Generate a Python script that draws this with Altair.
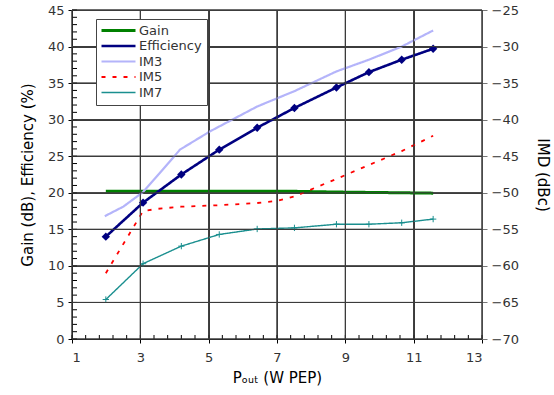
import altair as alt
import pandas as pd

# ---- data ----
series_names = ["Gain", "Efficiency", "IM3", "IM5", "IM7"]
series_colors = ["#008000", "#000080", "#b4b4fa", "#ff0000", "#1a8f8f"]
series_dash = [[1, 0], [1, 0], [1, 0], [4, 7], [1, 0]]
series_width = [3, 1.4, 2, 3, 1]

x_pts = [1.99, 3.08, 4.20, 5.31, 6.42, 7.51, 8.74, 9.69, 10.65, 11.57]
gain = [20.2, 20.2, 20.2, 20.2, 20.2, 20.2, 20.1, 20.05, 20.0, 19.95]
eff = [14.0, 18.65, 22.5, 25.9, 28.9, 31.6, 34.4, 36.5, 38.2, 39.7]

im3_x = [1.96, 2.5, 3.08, 3.57, 4.16, 5.04, 6.42, 7.51, 8.74, 9.69, 10.65, 11.57]
im3 = [-53.2, -51.9, -49.9, -47.3, -44.1, -41.6, -38.2, -36.1, -33.4, -31.8, -30.0, -27.8]

im5_x = [1.99, 3.08, 3.5, 4.2, 5.31, 6.42, 7.0, 7.51, 8.74, 9.69, 10.65, 11.57]
im5 = [-61.0, -52.5, -52.2, -51.9, -51.7, -51.4, -51.1, -50.5, -48.1, -46.2, -44.3, -42.2]

im7 = [-64.6, -59.7, -57.3, -55.7, -54.95, -54.8, -54.3, -54.3, -54.1, -53.6]

x_major = [1, 3, 5, 7, 9, 11, 13]
x_minor = [round(1 + 0.4 * i, 2) for i in range(31)]
yl_major = list(range(0, 50, 5))
yl_minor = list(range(0, 46))
yr_major = list(range(-70, -20, 5))

# ---- tables ----
rows_left = [{"x": a, "val": b, "series": "Gain"} for a, b in zip(x_pts, gain)]
rows_left += [{"x": a, "val": b, "series": "Efficiency"} for a, b in zip(x_pts, eff)]
df_left = pd.DataFrame(rows_left)
df_eff = pd.DataFrame({"x": x_pts, "val": eff})

rows_right = [{"x": a, "val": b, "series": "IM3"} for a, b in zip(im3_x, im3)]
rows_right += [{"x": a, "val": b, "series": "IM5"} for a, b in zip(im5_x, im5)]
rows_right += [{"x": a, "val": b, "series": "IM7"} for a, b in zip(x_pts, im7)]
df_right = pd.DataFrame(rows_right)
df_im7 = pd.DataFrame({"x": x_pts, "val": im7})

df_xminor = pd.DataFrame({"x": x_minor})
df_yminor = pd.DataFrame({"val": yl_minor})
df_xgrid = pd.DataFrame({"x": x_major})
df_ygrid = pd.DataFrame({"val": yl_major})

FONT = "DejaVu Sans"
GRID = "#3c3c3c"

ax_x = alt.Axis(values=x_major, grid=True, gridColor=GRID, gridWidth=1,
                domainColor="#000", tickColor="#000", tickSize=4,
                labelFont=FONT, labelFontSize=13, labelColor="#333", labelPadding=8,
                title="Pₒᵤₜ (W PEP)", titleFont=FONT, titleFontSize=15,
                titleFontWeight="normal", titleColor="#000", titlePadding=6)
x_enc = alt.X("x:Q", scale=alt.Scale(domain=[1, 13], nice=False, zero=False), axis=ax_x)

ax_yl = alt.Axis(values=yl_major, grid=True, gridColor=GRID, gridWidth=1,
                 domainColor="#000", tickColor="#000", tickSize=4,
                 labelFont=FONT, labelFontSize=13, labelColor="#333", labelPadding=4,
                 title="Gain (dB), Efficiency (%)", titleFont=FONT, titleFontSize=15,
                 titleFontWeight="normal", titleColor="#000", titlePadding=12)
yl_scale = alt.Scale(domain=[0, 45], nice=False)
yl_enc = alt.Y("val:Q", scale=yl_scale, axis=ax_yl)
yl_noaxis = alt.Y("val:Q", scale=yl_scale, axis=None)

ax_yr = alt.Axis(values=yr_major, orient="right", grid=False,
                 domainColor="#777", tickColor="#777", tickSize=5,
                 labelFont=FONT, labelFontSize=13, labelColor="#333", labelPadding=4,
                 title="IMD (dBc)", titleFont=FONT, titleFontSize=15,
                 titleFontWeight="normal", titleColor="#000", titlePadding=16)
yr_scale = alt.Scale(domain=[-70, -25], nice=False)
yr_enc = alt.Y("val:Q", scale=yr_scale, axis=ax_yr)
yr_noaxis = alt.Y("val:Q", scale=yr_scale, axis=None)

legend = alt.Legend(orient="none", legendX=24, legendY=9, title=None,
                    fillColor="white", strokeColor="#444", padding=5,
                    labelFont=FONT, labelFontSize=13, labelColor="#333",
                    symbolType="M-1.2,0L5.6,0", symbolSize=100, rowPadding=1.5,
                    labelOffset=25)

color_enc = alt.Color("series:N", scale=alt.Scale(domain=series_names, range=series_colors),
                      legend=legend)
dash_enc = alt.StrokeDash("series:N", scale=alt.Scale(domain=series_names, range=series_dash),
                          legend=legend)
width_enc = alt.StrokeWidth("series:N", scale=alt.Scale(domain=series_names, range=series_width),
                            legend=legend)


def x_grid():
    return alt.Chart(df_xgrid).mark_rule(color=GRID, strokeWidth=1).encode(
        x=x_enc, y=alt.value(0), y2=alt.value(329))


def y_grid():
    return alt.Chart(df_ygrid).mark_rule(color=GRID, strokeWidth=1).encode(y=yl_noaxis)


x_minor_ticks = alt.Chart(df_xminor).mark_rule(color="#000", strokeWidth=1).encode(
    x=x_enc, y=alt.value(329), y2=alt.value(325))
y_minor_ticks = alt.Chart(df_yminor).mark_rule(color="#000", strokeWidth=1).encode(
    y=yl_noaxis, x=alt.value(0), x2=alt.value(5))

left_lines = alt.Chart(df_left).mark_line().encode(
    x=x_enc, y=yl_enc, color=color_enc, strokeDash=dash_enc, strokeWidth=width_enc,
    order="x:Q")
eff_pts = alt.Chart(df_eff).mark_point(shape="diamond", filled=True, size=70,
                                       color="#000080", opacity=1).encode(x=x_enc, y=yl_noaxis)
right_lines = alt.Chart(df_right).mark_line().encode(
    x=x_enc, y=yr_enc, color=color_enc, strokeDash=dash_enc, strokeWidth=width_enc,
    order="x:Q")
im7_pts = alt.Chart(df_im7).mark_point(shape="M-1,0L1,0M0,-1L0,1", size=40, filled=False,
                                       strokeWidth=1, color="#1a8f8f", opacity=1).encode(
    x=x_enc, y=yr_noaxis)

chart = alt.layer(x_grid(), y_grid(), x_minor_ticks, y_minor_ticks,
                  left_lines, eff_pts, right_lines, im7_pts,
                  x_grid(), y_grid()).resolve_scale(
    y="independent").properties(
    width=410, height=329,
    autosize=alt.AutoSizeParams(type="none"),
    padding={"left": 72, "top": 10, "right": 72, "bottom": 56},
).configure_view(stroke=None).configure(background="white")

chart.save("out.html", embed_options={"renderer": "svg", "actions": False})
